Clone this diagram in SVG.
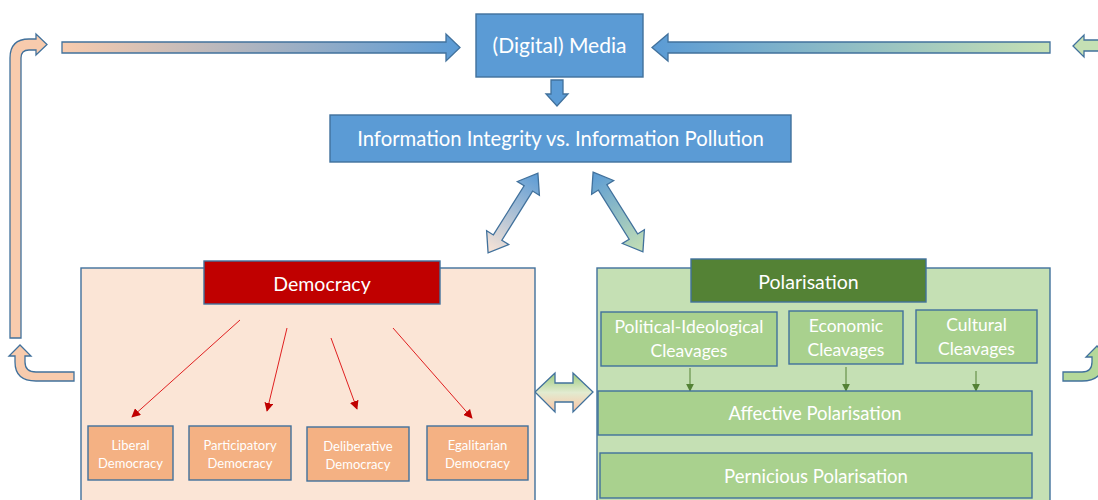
<svg xmlns="http://www.w3.org/2000/svg" width="1098" height="500" viewBox="0 0 1098 500">
<style>
text{font-family:Lato,"Liberation Sans",sans-serif;fill:#fff;text-anchor:middle}
.bx{stroke:#41719C;stroke-width:1.4}
.blue{fill:#5B9BD5}
.sub{fill:#F4B183}
.cl{fill:#A9D18E}
.ar{stroke:#41719C;stroke-width:1.3;stroke-linejoin:miter}
.red{stroke:#E02020;stroke-width:1;fill:none;marker-end:url(#rh)}
.grn{stroke:#548235;stroke-width:1;fill:none;marker-end:url(#gh)}
.s{font-size:13px}
.m{font-size:17.5px}
</style>
<defs>
<marker id="rh" viewBox="0 0 10 10" refX="9" refY="5" markerWidth="9" markerHeight="9" markerUnits="userSpaceOnUse" orient="auto"><path d="M0,0 L10,5 L0,10 Z" fill="#C00000"/></marker>
<marker id="gh" viewBox="0 0 10 10" refX="9" refY="5" markerWidth="8" markerHeight="8" markerUnits="userSpaceOnUse" orient="auto"><path d="M0,0 L10,5 L0,10 Z" fill="#548235"/></marker>
<linearGradient id="gPB" x1="0" y1="0" x2="1" y2="0"><stop offset="0" stop-color="#F8CBAD"/><stop offset="1" stop-color="#5B9BD5"/></linearGradient>
<linearGradient id="gPB2" x1="0" y1="0" x2="1" y2="0"><stop offset="0" stop-color="#FBE5D6"/><stop offset="1" stop-color="#5B9BD5"/></linearGradient>
<linearGradient id="gBG" x1="0" y1="0" x2="1" y2="0"><stop offset="0" stop-color="#5B9BD5"/><stop offset="1" stop-color="#C5E0B4"/></linearGradient>
<linearGradient id="gGP" x1="0" y1="0" x2="0" y2="1"><stop offset="0.1" stop-color="#A9D18E"/><stop offset="0.5" stop-color="#E2EBD0"/><stop offset="0.9" stop-color="#F8CBAD"/></linearGradient>
</defs>

<g id="connectors">
<path class="ar" fill="url(#gPB)" d="M62,42 L446,42 L446,34 L460,47.5 L446,61 L446,53 L62,53 Z"/>
<path class="ar" fill="url(#gBG)" d="M652,47.5 L668,34 L668,42 L1050,42 L1050,53 L668,53 L668,61 Z"/>
<path class="ar" fill="#F8CBAD" d="M10,338 L10,58 Q10,39 29,39 L36,39 L36,34 L47,44.5 L36,55 L36,50 L29,50 Q21,50 21,58 L21,338 Z"/>
<path class="ar" fill="#F8CBAD" d="M74,372 L74,381 L36,381 Q15,381 15,362 L15,356 L9,356 L20,345 L31,356 L25,356 L25,362 Q25,372 36,372 Z"/>
<path class="ar" fill="#C5E0B4" d="M1073,46 L1084,35 L1084,40 L1100,40 L1100,51 L1084,51 L1084,57 Z"/>
<path class="ar" fill="#B4D89A" d="M1063,372 L1063,381 L1082,381 Q1103,381 1103,362 L1103,357 L1108,357 L1097,346 L1086,357 L1092,357 L1092,362 Q1092,372 1082,372 Z"/>
<path class="ar" fill="#5B9BD5" d="M551,80 L563,80 L563,94 L568,94 L557,106 L546,94 L551,94 Z"/>
<g transform="translate(513,213) rotate(-58)">
<polygon class="ar" fill="url(#gPB2)" points="-47,0 -29,-13 -29,-5 29,-5 29,-13 47,0 29,13 29,5 -29,5 -29,13"/>
</g>
<g transform="translate(618,212) rotate(58)">
<polygon class="ar" fill="url(#gBG)" points="-47,0 -29,-13 -29,-5 29,-5 29,-13 47,0 29,13 29,5 -29,5 -29,13"/>
</g>
<polygon class="ar" fill="url(#gGP)" points="535,392 555,373 555,383 573,383 573,373 593,392 573,412 573,402 555,402 555,412"/>
</g>

<g id="media">
<rect class="bx blue" x="476" y="14" width="167" height="63"/>
<text x="559.5" y="53" font-size="21">(Digital) Media</text>
</g>
<g id="info">
<rect class="bx blue" x="330" y="115" width="461" height="47"/>
<text x="560.5" y="145.5" font-size="20.3">Information Integrity vs. Information Pollution</text>
</g>

<g id="democracy-panel">
<rect class="bx" fill="#FBE5D6" x="81" y="268" width="454" height="240"/>
</g>
<g id="democracy">
<rect class="bx" fill="#C00000" x="204" y="261" width="236" height="43"/>
<text x="322" y="290.5" font-size="19.5">Democracy</text>
</g>
<g id="dem-arrows">
<line class="red" x1="240" y1="320" x2="132" y2="417"/>
<line class="red" x1="287" y1="328" x2="267" y2="411"/>
<line class="red" x1="331" y1="338" x2="357" y2="409"/>
<line class="red" x1="393" y1="328" x2="472" y2="418"/>
</g>
<g id="liberal">
<rect class="bx sub" x="88" y="426" width="85" height="54"/>
<text class="s" x="130.5" y="449.5">Liberal</text><text class="s" x="130.5" y="467.5">Democracy</text>
</g>
<g id="participatory">
<rect class="bx sub" x="189" y="426" width="102" height="54"/>
<text class="s" x="240" y="449.5">Participatory</text><text class="s" x="240" y="467.5">Democracy</text>
</g>
<g id="deliberative">
<rect class="bx sub" x="307" y="427" width="102" height="54"/>
<text class="s" x="358" y="450.5">Deliberative</text><text class="s" x="358" y="468.5">Democracy</text>
</g>
<g id="egalitarian">
<rect class="bx sub" x="427" y="426" width="101" height="54"/>
<text class="s" x="477.5" y="449.5">Egalitarian</text><text class="s" x="477.5" y="467.5">Democracy</text>
</g>

<g id="polarisation-panel">
<rect class="bx" fill="#C5E0B4" x="597" y="268" width="453" height="240"/>
</g>
<g id="polarisation">
<rect class="bx" fill="#548235" x="691" y="259" width="235" height="43"/>
<text x="808.5" y="288.5" font-size="19.5">Polarisation</text>
</g>
<g id="political">
<rect class="bx cl" x="601" y="312" width="176" height="54"/>
<text class="m" x="689" y="333">Political-Ideological</text><text class="m" x="689" y="357">Cleavages</text>
</g>
<g id="economic">
<rect class="bx cl" x="789" y="311" width="114" height="53"/>
<text class="m" x="846" y="332">Economic</text><text class="m" x="846" y="356">Cleavages</text>
</g>
<g id="cultural">
<rect class="bx cl" x="916" y="310" width="121" height="53"/>
<text class="m" x="976.5" y="331">Cultural</text><text class="m" x="976.5" y="355">Cleavages</text>
</g>
<g id="pol-arrows">
<line class="grn" x1="690" y1="368" x2="690" y2="391"/>
<line class="grn" x1="846" y1="367" x2="846" y2="391"/>
<line class="grn" x1="976" y1="371" x2="976" y2="391"/>
</g>
<g id="affective">
<rect class="bx cl" x="598" y="391" width="434" height="44"/>
<text x="815" y="419.5" font-size="18.5">Affective Polarisation</text>
</g>
<g id="pernicious">
<rect class="bx cl" x="600" y="453" width="432" height="45"/>
<text x="816" y="482.5" font-size="18.5">Pernicious Polarisation</text>
</g>
</svg>
